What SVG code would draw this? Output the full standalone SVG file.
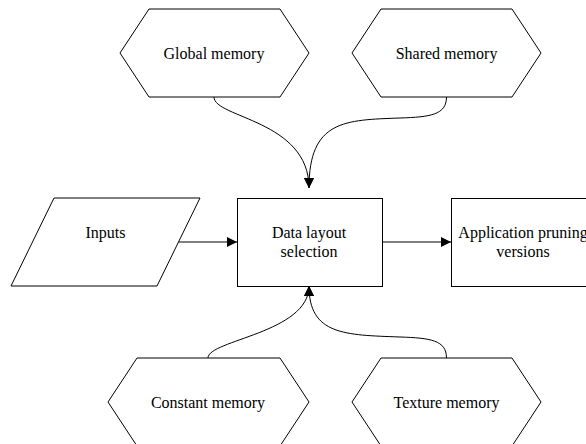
<svg xmlns="http://www.w3.org/2000/svg" width="586" height="444" viewBox="0 0 586 444">
<style>
.s{fill:#fff;stroke:#000;stroke-width:1}
.t{font-family:"Liberation Serif","Times New Roman",serif;font-size:16px;fill:#000;text-anchor:middle}
.c{fill:none;stroke:#000;stroke-width:1}
</style>
<defs>
<marker id="ah" viewBox="0 0 10 10" refX="10" refY="5" markerWidth="10" markerHeight="10" markerUnits="userSpaceOnUse" orient="auto">
<path d="M0,0 L10,5 L0,10 Z" fill="#000"/>
</marker>
</defs>
<rect width="586" height="444" fill="#fff"/>
<g id="connectors">
<path class="c" d="M214,97 C214,118 309,120 309,188" marker-end="url(#ah)"/>
<path class="c" d="M446.5,97 C446.5,115 430,117 400,118 C345,120 309,120 309,188" marker-end="url(#ah)"/>
<path class="c" d="M208,358 C208,340 309,333 309,286" marker-end="url(#ah)"/>
<path class="c" d="M446.5,358 C446.5,340 430,338 400,337 C345,335 309,335 309,286" marker-end="url(#ah)"/>
<path class="c" d="M178.5,242 L237,242" marker-end="url(#ah)"/>
<path class="c" d="M382,242 L451,242" marker-end="url(#ah)"/>
</g>
<g id="global-memory">
<polygon class="s" points="120,53 149,9 280,9 309,53 280,97 149,97"/>
<text class="t" x="214" y="58.5">Global memory</text>
</g>
<g id="shared-memory">
<polygon class="s" points="352,53 381,9 512,9 541,53 512,97 381,97"/>
<text class="t" x="446.5" y="58.5">Shared memory</text>
</g>
<g id="inputs">
<polygon class="s" points="54,198 200,198 157,286 11,286"/>
<text class="t" x="105.5" y="238">Inputs</text>
</g>
<g id="data-layout">
<rect class="s" x="237.5" y="198.5" width="145" height="88"/>
<text class="t" x="309" y="238">Data layout</text>
<text class="t" x="309" y="257">selection</text>
</g>
<g id="application">
<rect class="s" x="451.5" y="198.5" width="145" height="88"/>
<text class="t" x="523" y="238">Application pruning</text>
<text class="t" x="523" y="257">versions</text>
</g>
<g id="constant-memory">
<polygon class="s" points="108,402 137,358 280,358 309,402 280,446 137,446"/>
<text class="t" x="208" y="407.5">Constant memory</text>
</g>
<g id="texture-memory">
<polygon class="s" points="352,402 381,358 512,358 541,402 512,446 381,446"/>
<text class="t" x="446.5" y="407.5">Texture memory</text>
</g>
</svg>
